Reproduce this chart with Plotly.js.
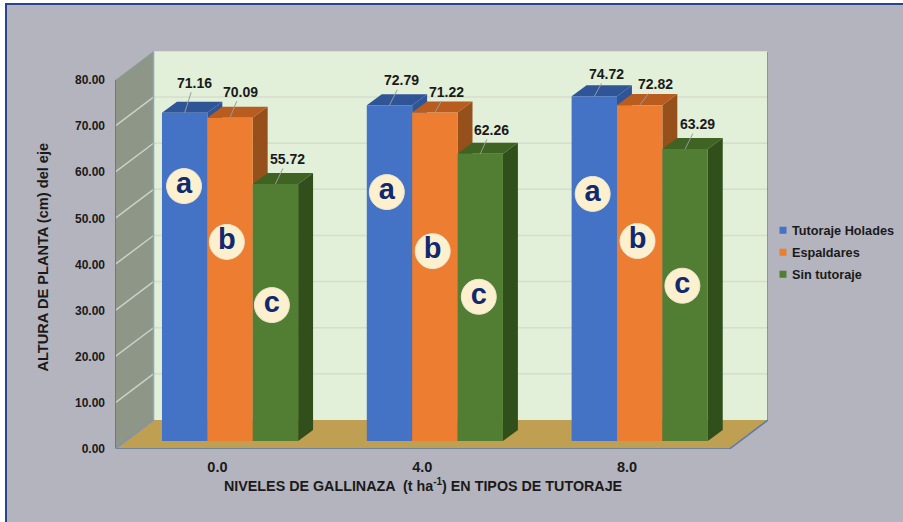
<!DOCTYPE html>
<html><head><meta charset="utf-8">
<script src="https://cdn.plot.ly/plotly-3.0.1.min.js"></script>
<style>
html,body{margin:0;padding:0;background:#fff;overflow:hidden}
#frame{position:absolute;left:5px;top:3px;width:910px;height:530px;background:#b4b4be;border-left:2px solid #27458f;border-top:2px solid #27458f}
#chart{position:absolute;left:0;top:0;width:903px;height:522px}
</style></head><body>
<div id="frame"></div><div id="chart"></div>
<script>
const groupLabels = ['0.0','4.0','8.0'];
const groupPos = [0,1,2];
const seriesNames = ['Tutoraje Holades','Espaldares','Sin tutoraje'];
const holades = [71.16,72.79,74.72];
const espaldares = [70.09,71.22,72.82];
const sinTutoraje = [55.72,62.26,63.29];
const letterNames = ['a','b','c'];
const yTicks = [0,10,20,30,40,50,60,70,80];

const frontColors = ['#4472c4','#ed7d31','#527e33'];
const topColors = ['#2f5597','#b85c20','#3e6323'];
const sideColors = ['#2f5597','#96501b','#304f1a'];

// 3D geometry in axis units
const BASE = 1.735, BAR_W = 0.2215;
const OFFSETS = [-0.2707,-0.0492,0.1725];
const BAR_DX = 0.073, BAR_DY = 2.386;
const WALL_DX = 0.188, WALL_DY = 6.29;
const X0 = -0.5, X1 = 2.5, YTOP = 80;

const series = [holades,espaldares,sinTutoraje];
const poly = pts => 'M'+pts.map(p=>p[0]+','+p[1]).join('L')+'Z';
const shapes = [];
const face = (pts,fill,line) => shapes.push({type:'path',xref:'x',yref:'y',layer:'below',path:poly(pts),fillcolor:fill,line:line||{width:0}});
const seg = (a,b,color,width) => shapes.push({type:'line',xref:'x',yref:'y',layer:'below',x0:a[0],y0:a[1],x1:b[0],y1:b[1],line:{color,width}});

// walls and floor
face([[X0+WALL_DX,WALL_DY],[X1+WALL_DX,WALL_DY],[X1+WALL_DX,YTOP+WALL_DY],[X0+WALL_DX,YTOP+WALL_DY]],'#e2efd9');
face([[X0,0],[X0,YTOP],[X0+WALL_DX,YTOP+WALL_DY],[X0+WALL_DX,WALL_DY]],'#8d9687');
face([[X0,0],[X1,0],[X1+WALL_DX,WALL_DY],[X0+WALL_DX,WALL_DY]],'#bf9f51');
yTicks.slice(1,8).forEach(v=>{
  seg([X0+WALL_DX,v+WALL_DY],[X1+WALL_DX,v+WALL_DY],'#d4decb',1.5);
  seg([X0,v],[X0+WALL_DX,v+WALL_DY],'#cdd2c8',1.5);
});
seg([X0,0],[X0,YTOP],'#5b7aa8',2);
seg([X0,0],[X1,0],'#5b7aa8',1.5);
seg([X1,0],[X1+WALL_DX,WALL_DY],'#5b7aa8',1.5);
seg([X0,0],[X0+WALL_DX,WALL_DY],'#7f93ad',1.5);
seg([X0,YTOP],[X0+WALL_DX,YTOP+WALL_DY],'#a8b2bd',1);
seg([X0+WALL_DX,WALL_DY],[X0+WALL_DX,YTOP+WALL_DY],'#8ea3bd',1.5);
seg([X1+WALL_DX,WALL_DY],[X1+WALL_DX,YTOP+WALL_DY],'#5b7aa8',1.5);
seg([X0+WALL_DX,YTOP+WALL_DY],[X1+WALL_DX,YTOP+WALL_DY],'#d0d4da',1.5);

// top and side faces of the bars, drawn under the front faces
groupPos.forEach((g,gi)=>{
  series.forEach((vals,si)=>{
    const l=g+OFFSETS[si], r=l+BAR_W, t=vals[gi]+BASE, b=BASE;
    face([[r,t],[r+BAR_DX,t+BAR_DY],[r+BAR_DX,b+BAR_DY],[r,b]],sideColors[si]);
    face([[l,t],[r,t],[r+BAR_DX,t+BAR_DY],[l+BAR_DX,t+BAR_DY]],topColors[si]);
  });
});

const traces = series.map((vals,si)=>({
  type:'bar',x:groupPos,y:vals,base:BASE,width:BAR_W,offset:OFFSETS[si],
  marker:{color:frontColors[si],line:{width:0}},name:seriesNames[si],showlegend:false,hoverinfo:'skip'
}));
// legend entries with small square keys
seriesNames.forEach((n,si)=>traces.push({
  type:'scatter',mode:'markers',x:[null],y:[null],name:n,legendgroup:'g'+si,
  marker:{symbol:'square',size:7,color:frontColors[si]}
}));
// lettered circles
const letterX = [[-0.163,0.827,1.832],[0.046,1.051,2.051],[0.266,1.276,2.27]];
const letterY = [[57.0,55.7,55.3],[44.9,42.9,45.1],[31.2,33.0,35.4]];
letterNames.forEach((c,si)=>traces.push({
  type:'scatter',mode:'markers+text',x:letterX[si],y:letterY[si],text:[c,c,c],textposition:'middle center',
  marker:{size:35,color:'#fdf0cf',line:{color:'#efe6cf',width:1}},
  textfont:{family:'Liberation Sans',size:29,color:'#10296f',weight:700},showlegend:false,hoverinfo:'skip'
}));

// value labels with leader lines
const labelAx = [[9.5,12.5,12.5],[10.5,12,16],[12,11,12.5]];
const labelAy = [[-30,-25,-22.5],[-26,-21,-21],[-25,-24,-25]];
const annotations = [];
groupPos.forEach((g,gi)=>series.forEach((vals,si)=>annotations.push({
  x:g+OFFSETS[si]+BAR_W/2,y:vals[gi]+BASE,xref:'x',yref:'y',text:'<b>'+vals[gi].toFixed(2)+'</b>',
  showarrow:true,arrowhead:0,arrowwidth:1,arrowcolor:'#9a9a9a',standoff:0,ax:labelAx[si][gi],ay:labelAy[si][gi],
  font:{family:'Liberation Sans',size:14,color:'#1a1a1a'}
})));
annotations.push({xref:'paper',yref:'paper',x:(423-115)/653,y:(449-485)/398,xanchor:'center',yanchor:'middle',showarrow:false,
  text:'<b>NIVELES DE GALLINAZA  (t ha<sup>-1</sup>) EN TIPOS DE TUTORAJE</b>',font:{family:'Liberation Sans',size:14.3,color:'#1a1a1a'}});
annotations.push({xref:'paper',yref:'paper',x:(42-115)/653,y:(449-257.5)/398,xanchor:'center',yanchor:'middle',showarrow:false,textangle:-90,
  text:'<b>ALTURA DE PLANTA (cm) del eje</b>',font:{family:'Liberation Sans',size:14.6,color:'#1a1a1a'}});

const layout = {
  width:903,height:522,paper_bgcolor:'rgba(0,0,0,0)',plot_bgcolor:'rgba(0,0,0,0)',
  margin:{l:115,r:135,t:51,b:73,pad:0,autoexpand:false},barmode:'overlay',
  xaxis:{range:[X0,X1+WALL_DX],tickvals:groupPos,ticktext:groupLabels,showgrid:false,zeroline:false,showline:false,ticks:'',ticklabelstandoff:7,
    tickfont:{family:'Liberation Sans',size:14.5,color:'#1a1a1a',weight:700}},
  yaxis:{range:[0,YTOP+WALL_DY],tickvals:yTicks,ticktext:yTicks.map(v=>v.toFixed(2)),showgrid:false,zeroline:false,showline:false,ticks:'',ticklabelstandoff:9,
    tickfont:{family:'Liberation Sans',size:12,color:'#1a1a1a',weight:700}},
  legend:{x:(752-115)/653,xanchor:'left',y:(449-215.5)/398,yanchor:'top',bgcolor:'rgba(0,0,0,0)',borderwidth:0,tracegroupgap:2.5,
    font:{family:'Liberation Sans',size:12.7,color:'#1a1a1a',weight:700}},
  shapes,annotations,showlegend:true
};
Plotly.newPlot('chart',traces,layout,{displayModeBar:false,staticPlot:true}).then(()=>{
  // bring the legend keys closer to their text
  document.querySelectorAll('#chart .legend .legendsymbols').forEach(s=>{
    s.setAttribute('transform','translate(11,0)');
  });
});
</script></body></html>
